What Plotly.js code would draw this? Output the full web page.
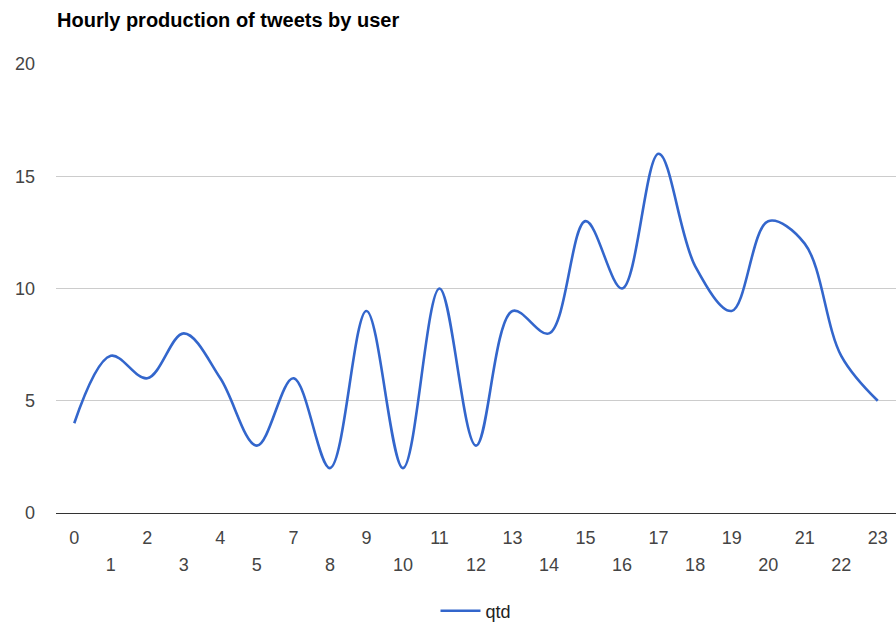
<!DOCTYPE html>
<html>
<head>
<meta charset="utf-8">
<script src="https://cdn.plot.ly/plotly-3.0.1.min.js"></script>
<style>
  html, body { margin: 0; padding: 0; background: #fff; }
  #chart { width: 896px; height: 628px; }
</style>
</head>
<body>
<div id="chart"></div>
<script>
// Hours present in the data (hour 6 has no entry)
const hours = ["0","1","2","3","4","5","7","8","9","10","11","12","13","14","15","16","17","18","19","20","21","22","23"];
// Tweets per hour ("qtd")
const qtd = [4, 7, 6, 8, 6, 3, 6, 2, 9, 2, 10, 3, 9, 8, 13, 10, 16, 11, 9, 13, 12, 7, 5];
const seriesName = "qtd";
const chartTitle = "Hourly production of tweets by user";
const yTicks = [0, 5, 10, 15, 20];

// Alternate tick rows: even positions on the first row, odd positions on the second
const topRow = hours.filter((h, i) => i % 2 === 0);
const bottomRow = hours.filter((h, i) => i % 2 === 1);

const FONT = "Liberation Sans, Arial, sans-serif";
const tickFont = { family: FONT, size: 18, color: "#444444" };

const data = [
  {
    x: hours,
    y: qtd,
    name: seriesName,
    type: "scatter",
    mode: "lines",
    line: { color: "#3366CC", width: 2.6, shape: "spline", smoothing: 1 },
    hoverinfo: "x+y"
  },
  {
    x: [],
    y: [],
    xaxis: "x2",
    type: "scatter",
    mode: "lines",
    showlegend: false,
    hoverinfo: "skip"
  }
];

const baseX = {
  type: "category",
  categoryorder: "array",
  categoryarray: hours,
  range: [-0.5, hours.length - 0.5],
  showgrid: false,
  zeroline: false,
  showline: false,
  ticks: "",
  tickfont: tickFont,
  fixedrange: true
};

const layout = {
  width: 896,
  height: 628,
  paper_bgcolor: "#ffffff",
  plot_bgcolor: "#ffffff",
  margin: { l: 56, r: 0, t: 64, b: 115 },
  title: {
    text: "<b>" + chartTitle + "</b>",
    font: { family: FONT, size: 20, color: "#000000" },
    x: 57 / 896,
    xanchor: "left",
    y: 1 - 20 / 628,
    yanchor: "middle"
  },
  xaxis: Object.assign({}, baseX, {
    tickmode: "array",
    tickvals: topRow,
    ticktext: topRow,
    ticklabelstandoff: 12
  }),
  xaxis2: Object.assign({}, baseX, {
    overlaying: "x",
    anchor: "y",
    side: "bottom",
    tickmode: "array",
    tickvals: bottomRow,
    ticktext: bottomRow,
    ticklabelstandoff: 39
  }),
  yaxis: {
    range: [0, 20],
    tickmode: "array",
    tickvals: yTicks,
    showgrid: true,
    gridcolor: "#cccccc",
    gridwidth: 1,
    zeroline: true,
    zerolinecolor: "#333333",
    zerolinewidth: 1,
    showline: false,
    ticks: "",
    tickfont: tickFont,
    ticklabelstandoff: 20,
    fixedrange: true
  },
  showlegend: true,
  legend: {
    orientation: "h",
    x: 0.5,
    xanchor: "center",
    yref: "container",
    y: (628 - 611) / 628,
    yanchor: "middle",
    font: { family: FONT, size: 18, color: "#222222" },
    itemwidth: 40,
    bgcolor: "rgba(0,0,0,0)"
  },
  hovermode: "closest"
};

Plotly.newPlot("chart", data, layout, { displayModeBar: false, responsive: false });
</script>
</body>
</html>
